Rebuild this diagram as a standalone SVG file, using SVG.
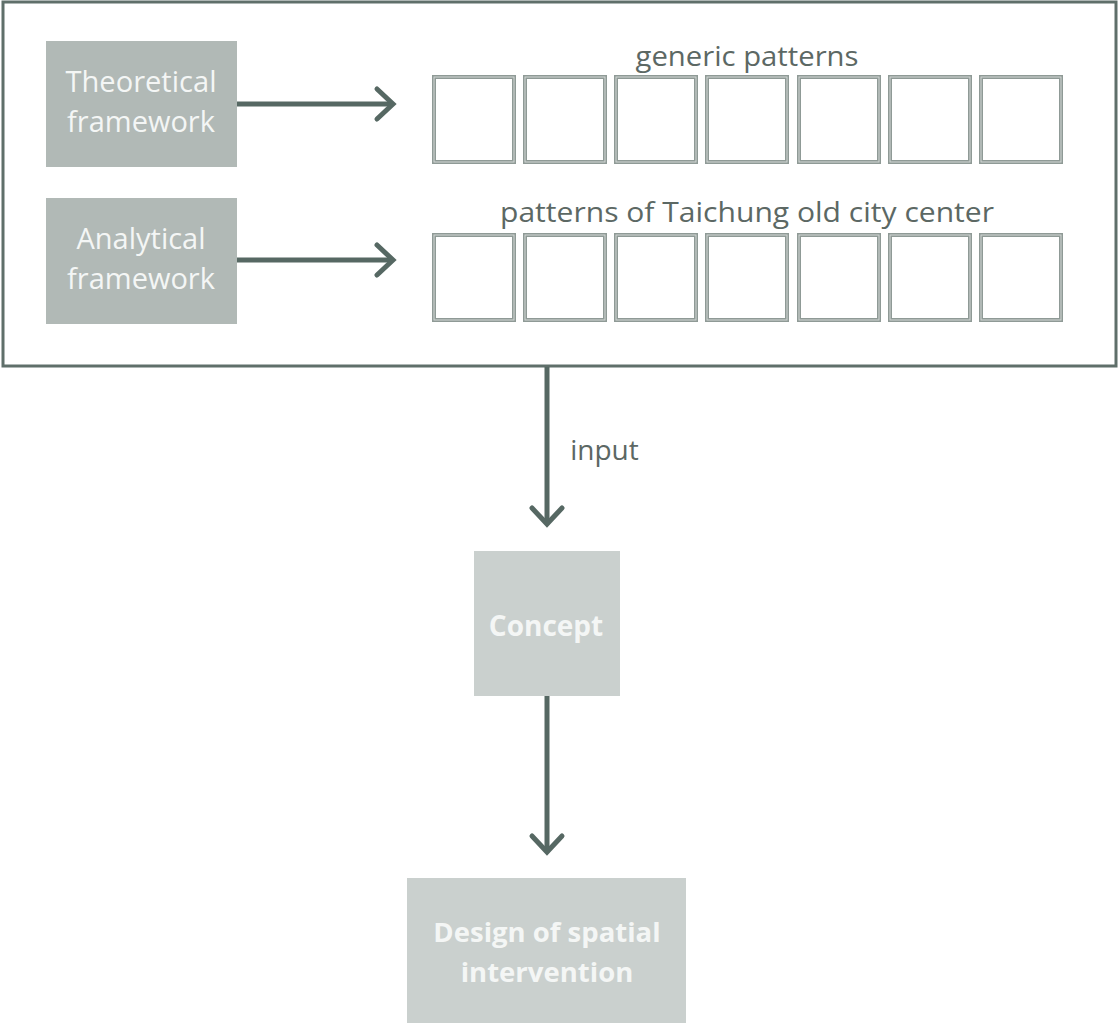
<svg xmlns="http://www.w3.org/2000/svg" width="1120" height="1023" viewBox="0 0 1120 1023">
  <style>
    .frame { fill: #ffffff; stroke: #5f6f6a; stroke-width: 3; }
    .dark { fill: #b1b9b6; }
    .light { fill: #cad0ce; }
    .cell-out { fill: #ffffff; stroke: #8f9a96; stroke-width: 4; }
    .cell-in { fill: none; stroke: #d3d8d6; stroke-width: 1; }
    .label { font-family: "Open Sans", "Liberation Sans", sans-serif; fill: #f4f6f5; text-anchor: middle; }
    .bold { font-weight: bold; }
    .caption { font-family: "Open Sans", "Liberation Sans", sans-serif; fill: #5c6864; text-anchor: middle; font-size: 28px; }
    .conn { stroke: #566863; stroke-width: 5; fill: none; }
    .head { stroke: #566863; stroke-width: 5; fill: none; stroke-linecap: round; stroke-linejoin: miter; }
  </style>
  <defs>
    <g id="cell">
      <rect class="cell-out" x="0" y="0" width="80" height="85"/>
      <rect class="cell-in" x="0" y="0" width="80" height="85"/>
    </g>
  </defs>

  <rect width="1120" height="1023" fill="#ffffff"/>

  <!-- enclosing frame -->
  <g id="frame">
    <rect class="frame" x="3" y="2" width="1113" height="364"/>
  </g>

  <!-- input nodes -->
  <g id="theoretical">
    <rect class="dark" x="46" y="41" width="191" height="126"/>
    <text class="label" x="141" y="92" font-size="29" textLength="151" lengthAdjust="spacingAndGlyphs">Theoretical</text>
    <text class="label" x="141" y="132" font-size="29">framework</text>
  </g>
  <g id="analytical">
    <rect class="dark" x="46" y="198" width="191" height="126"/>
    <text class="label" x="141" y="249" font-size="29">Analytical</text>
    <text class="label" x="141" y="289" font-size="29">framework</text>
  </g>

  <!-- generic patterns row -->
  <g id="generic-patterns">
    <text class="caption" x="747" y="66" textLength="223" lengthAdjust="spacingAndGlyphs">generic patterns</text>
    <use href="#cell" x="434" y="77"/>
    <use href="#cell" x="525" y="77"/>
    <use href="#cell" x="616" y="77"/>
    <use href="#cell" x="707" y="77"/>
    <use href="#cell" x="799" y="77"/>
    <use href="#cell" x="890" y="77"/>
    <use href="#cell" x="981" y="77"/>
  </g>

  <!-- Taichung patterns row -->
  <g id="taichung-patterns">
    <text class="caption" x="747" y="222" textLength="494" lengthAdjust="spacingAndGlyphs">patterns of Taichung old city center</text>
    <use href="#cell" x="434" y="235"/>
    <use href="#cell" x="525" y="235"/>
    <use href="#cell" x="616" y="235"/>
    <use href="#cell" x="707" y="235"/>
    <use href="#cell" x="799" y="235"/>
    <use href="#cell" x="890" y="235"/>
    <use href="#cell" x="981" y="235"/>
  </g>

  <g id="concept">
    <rect class="light" x="474" y="551" width="146" height="145"/>
    <text class="label bold" x="546" y="636" font-size="28">Concept</text>
  </g>

  <g id="design">
    <rect class="light" x="407" y="878" width="279" height="150"/>
    <text class="label bold" x="547" y="942" font-size="27.5">Design of spatial</text>
    <text class="label bold" x="547" y="982" font-size="27.5">intervention</text>
  </g>

  <!-- connectors -->
  <g id="connectors">
    <line class="conn" x1="237" y1="104" x2="392" y2="104"/>
    <polyline class="head" points="377,89 393,104 377,119"/>
    <line class="conn" x1="237" y1="260" x2="392" y2="260"/>
    <polyline class="head" points="377,245 393,260 377,275"/>

    <line class="conn" x1="547" y1="367" x2="547" y2="523"/>
    <polyline class="head" points="532,508 547,524 562,508"/>
    <text class="caption" x="604.5" y="460">input</text>

    <line class="conn" x1="547" y1="696" x2="547" y2="851"/>
    <polyline class="head" points="532,836 547,852 562,836"/>
  </g>
</svg>
